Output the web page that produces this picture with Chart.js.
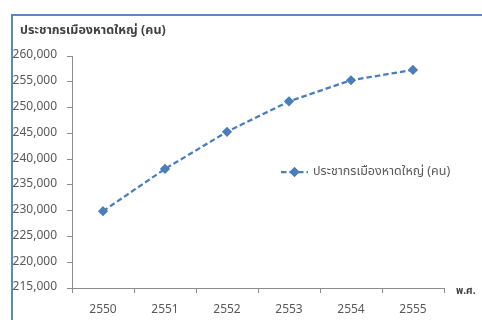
<!DOCTYPE html>
<html>
<head>
<meta charset="utf-8">
<script src="https://cdn.jsdelivr.net/npm/chart.js@4/dist/chart.umd.min.js"></script>
<style>
  html, body { margin: 0; padding: 0; background: #ffffff; }
  #wrap { position: relative; width: 482px; height: 320px; overflow: hidden; }
  #frame {
    position: absolute; left: 11px; top: 14px; width: 600px; height: 400px;
    border-left: 2px solid #5a88c6; border-top: 2px solid #5a88c6;
    box-sizing: border-box;
  }
  canvas { position: absolute; left: 0; top: 0; }
</style>
</head>
<body>
<div id="wrap">
  <div id="frame"></div>
  <canvas id="c" width="482" height="320"></canvas>
</div>
<script>
// Hat Yai city population by Buddhist-era year
const years = ['2550', '2551', '2552', '2553', '2554', '2555'];
const population = [229900, 238100, 245300, 251200, 255300, 257300];
const yTicks = [215000, 220000, 225000, 230000, 235000, 240000, 245000, 250000, 255000, 260000];

const seriesLabel = 'ประชากรเมืองหาดใหญ่ (คน)';
const chartTitle = 'ประชากรเมืองหาดใหญ่ (คน)';
const xAxisTitle = 'พ.ศ.';

const FONT = "'Noto Sans Thai', 'Tahoma', 'Noto Sans', 'DejaVu Sans', sans-serif";
const LINE_BLUE = '#4a7ebb';
const TEXT_GREY = '#595959';
const AXIS_GREY = '#8c8c8c';

// Title, in-plot legend and the unit label at the end of the x axis
const overlay = {
  id: 'overlay',
  afterDraw(chart) {
    const ctx = chart.ctx;
    const area = chart.chartArea;
    const ds = chart.data.datasets[0];
    ctx.save();
    ctx.textBaseline = 'middle';
    ctx.textAlign = 'left';
    // title
    ctx.fillStyle = '#404040';
    ctx.font = "bold 12.5px " + FONT;
    ctx.fillText(chartTitle, 20, 31);
    // legend sample line
    const ly = 172;
    ctx.strokeStyle = ds.borderColor;
    ctx.lineWidth = ds.borderWidth;
    ctx.setLineDash(ds.borderDash);
    ctx.beginPath();
    ctx.moveTo(281, ly);
    ctx.lineTo(308, ly);
    ctx.stroke();
    ctx.setLineDash([]);
    Chart.helpers.drawPoint(ctx, {
      pointStyle: ds.pointStyle, radius: ds.pointRadius, borderWidth: 1, rotation: 0
    }, 294.5, ly);
    ctx.fillStyle = ds.pointBackgroundColor;
    ctx.strokeStyle = ds.pointBorderColor;
    ctx.fill();
    ctx.stroke();
    ctx.fillStyle = TEXT_GREY;
    ctx.font = "12.5px " + FONT;
    ctx.fillText(ds.label, 313, ly);
    // x axis unit
    ctx.fillStyle = '#404040';
    ctx.font = "bold 10px " + FONT;
    ctx.fillText(xAxisTitle, area.right + 12, area.bottom + 4);
    ctx.restore();
  }
};

new Chart(document.getElementById('c'), {
  type: 'line',
  data: {
    labels: years,
    datasets: [{
      label: seriesLabel,
      data: population,
      borderColor: LINE_BLUE,
      backgroundColor: LINE_BLUE,
      borderWidth: 2.25,
      borderDash: [5.5, 3],
      pointStyle: 'rectRot',
      pointRadius: 3.5,
      pointBackgroundColor: LINE_BLUE,
      pointBorderColor: LINE_BLUE,
      tension: 0,
      fill: false
    }]
  },
  options: {
    responsive: false,
    animation: false,
    layout: { padding: { left: 8, right: 38, top: 56, bottom: 4 } },
    plugins: {
      legend: { display: false },
      tooltip: { enabled: false },
      title: { display: false }
    },
    scales: {
      x: {
        offset: true,
        afterFit(scale) { scale.height = 28; },
        grid: { offset: true, drawOnChartArea: false, drawTicks: true, tickLength: 5, color: AXIS_GREY },
        border: { color: AXIS_GREY, width: 1 },
        ticks: { color: TEXT_GREY, font: { family: FONT, size: 12 }, padding: 10 }
      },
      y: {
        min: 215000,
        max: 260000,
        afterBuildTicks(scale) { scale.ticks = yTicks.map(v => ({ value: v })); },
        afterFit(scale) { scale.width = 64; },
        grid: { drawOnChartArea: false, drawTicks: true, tickLength: 5, color: AXIS_GREY },
        border: { color: AXIS_GREY, width: 1 },
        ticks: {
          color: TEXT_GREY,
          font: { family: FONT, size: 12 },
          padding: 10,
          callback: v => v.toLocaleString('en-US')
        }
      }
    }
  },
  plugins: [overlay]
});
</script>
</body>
</html>
